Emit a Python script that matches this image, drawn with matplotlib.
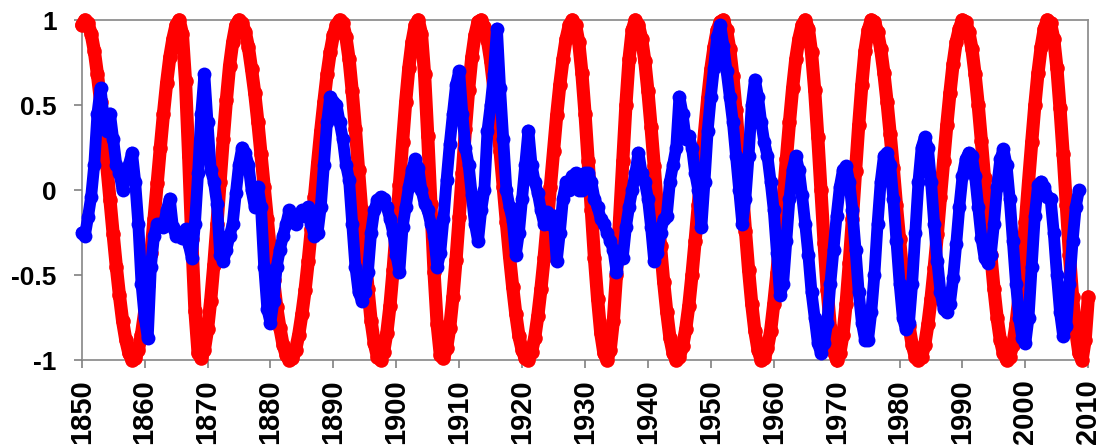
import numpy as np
import matplotlib
matplotlib.use("Agg")
import matplotlib.pyplot as plt

plt.rcParams['font.family'] = ['Liberation Sans', 'DejaVu Sans']

# half-year sampling
red_years = np.arange(1850, 2010.01, 0.5)
red_vals = [
    0.97, 1.00, 0.98, 0.92, 0.82, 0.68, 0.52, 0.34, 0.14, -0.06, -0.26, -0.45, -0.62, -0.77, -0.88, -0.96, -1.00, -0.99, -0.94, -0.85,
    -0.72, -0.56, -0.37, -0.17, 0.04, 0.25, 0.45, 0.63, 0.78, 0.89, 0.97, 1.00, 0.92, 0.64, 0.20, -0.29, -0.71, -0.96, -0.99, -0.94,
    -0.82, -0.65, -0.44, -0.20, 0.05, 0.30, 0.53, 0.73, 0.87, 0.97, 1.00, 0.98, 0.93, 0.84, 0.71, 0.57, 0.40, 0.21, 0.02, -0.17,
    -0.36, -0.53, -0.69, -0.81, -0.91, -0.97, -1.00, -0.99, -0.94, -0.85, -0.73, -0.59, -0.42, -0.23, -0.04, 0.16, 0.35, 0.52, 0.68, 0.81,
    0.91, 0.97, 1.00, 0.98, 0.90, 0.77, 0.58, 0.36, 0.12, -0.12, -0.36, -0.58, -0.77, -0.90, -0.98, -1.00, -0.95, -0.84, -0.68, -0.47,
    -0.23, 0.03, 0.28, 0.52, 0.72, 0.87, 0.97, 1.00, 0.92, 0.68, 0.32, -0.08, -0.48, -0.79, -0.97, -0.99, -0.93, -0.81, -0.63, -0.41,
    -0.16, 0.10, 0.36, 0.59, 0.78, 0.91, 0.99, 1.00, 0.96, 0.88, 0.76, 0.60, 0.43, 0.23, 0.02, -0.19, -0.39, -0.57, -0.73, -0.86,
    -0.94, -0.99, -1.00, -0.95, -0.87, -0.74, -0.58, -0.40, -0.19, 0.02, 0.23, 0.44, 0.62, 0.77, 0.89, 0.97, 1.00, 0.97, 0.87, 0.69,
    0.45, 0.17, -0.12, -0.40, -0.64, -0.84, -0.96, -1.00, -0.94, -0.77, -0.50, -0.17, 0.17, 0.50, 0.77, 0.94, 1.00, 0.97, 0.89, 0.76,
    0.58, 0.37, 0.14, -0.10, -0.33, -0.54, -0.72, -0.87, -0.96, -1.00, -0.98, -0.92, -0.82, -0.68, -0.50, -0.30, -0.09, 0.13, 0.34, 0.54,
    0.71, 0.84, 0.94, 0.99, 1.00, 0.94, 0.83, 0.67, 0.47, 0.24, 0.00, -0.24, -0.47, -0.67, -0.83, -0.94, -1.00, -0.99, -0.93, -0.83,
    -0.67, -0.49, -0.27, -0.05, 0.18, 0.40, 0.60, 0.77, 0.89, 0.97, 1.00, 0.95, 0.81, 0.59, 0.31, 0.00, -0.31, -0.59, -0.81, -0.95,
    -1.00, -0.96, -0.85, -0.67, -0.43, -0.17, 0.11, 0.38, 0.62, 0.82, 0.94, 1.00, 0.99, 0.93, 0.83, 0.69, 0.52, 0.33, 0.13, -0.09,
    -0.29, -0.49, -0.66, -0.80, -0.91, -0.98, -1.00, -0.98, -0.91, -0.79, -0.64, -0.46, -0.26, -0.04, 0.17, 0.38, 0.57, 0.74, 0.87, 0.95,
    1.00, 0.99, 0.93, 0.83, 0.68, 0.50, 0.29, 0.07, -0.16, -0.38, -0.58, -0.75, -0.88, -0.96, -1.00, -0.98, -0.91, -0.79, -0.62, -0.41,
    -0.19, 0.05, 0.28, 0.50, 0.69, 0.84, 0.95, 1.00, 0.98, 0.89, 0.72, 0.48, 0.21, -0.09, -0.38, -0.63, -0.83, -0.96, -1.00, -0.88,
    -0.63,
]

blue_years = np.arange(1850, 2008.51, 0.5)
blue_vals = [
    -0.25, -0.27, -0.16, -0.04, 0.15, 0.45, 0.60, 0.42, 0.35, 0.45, 0.30, 0.15, 0.10, 0.00, 0.10, 0.15, 0.22, 0.05, -0.20, -0.55,
    -0.75, -0.87, -0.45, -0.27, -0.20, -0.20, -0.22, -0.12, -0.05, -0.22, -0.27, -0.25, -0.28, -0.23, -0.32, -0.40, -0.20, 0.10, 0.45, 0.68,
    0.40, 0.12, 0.05, -0.08, -0.38, -0.42, -0.35, -0.27, -0.20, -0.02, 0.15, 0.25, 0.22, 0.15, 0.00, -0.10, 0.02, -0.10, -0.45, -0.70,
    -0.78, -0.65, -0.45, -0.35, -0.27, -0.20, -0.12, -0.15, -0.20, -0.15, -0.12, -0.15, -0.10, -0.20, -0.27, -0.25, -0.10, 0.15, 0.40, 0.55,
    0.52, 0.50, 0.40, 0.30, 0.15, 0.06, -0.20, -0.45, -0.60, -0.65, -0.60, -0.48, -0.25, -0.12, -0.06, -0.04, -0.05, -0.10, -0.17, -0.25,
    -0.38, -0.48, -0.22, -0.10, 0.02, 0.12, 0.18, 0.13, 0.00, -0.08, -0.12, -0.20, -0.27, -0.45, -0.37, -0.17, 0.06, 0.27, 0.45, 0.62,
    0.70, 0.45, 0.25, 0.15, -0.03, -0.20, -0.30, -0.12, 0.00, 0.35, 0.50, 0.68, 0.95, 0.60, 0.30, 0.00, -0.10, -0.18, -0.38, -0.25,
    -0.05, 0.15, 0.35, 0.15, 0.05, -0.02, -0.12, -0.20, -0.13, -0.20, -0.15, -0.42, -0.25, -0.05, 0.05, 0.00, 0.08, 0.10, 0.00, 0.00,
    0.10, 0.10, 0.05, -0.05, -0.10, -0.17, -0.20, -0.25, -0.30, -0.35, -0.48, -0.38, -0.40, -0.22, -0.10, 0.00, 0.10, 0.22, 0.10, 0.05,
    -0.05, -0.22, -0.42, -0.37, -0.25, -0.17, -0.15, 0.05, 0.15, 0.25, 0.55, 0.45, 0.30, 0.32, 0.25, 0.10, 0.00, -0.22, 0.05, 0.35,
    0.55, 0.72, 0.90, 0.97, 0.85, 0.70, 0.55, 0.40, 0.20, 0.00, -0.20, -0.05, 0.20, 0.50, 0.65, 0.55, 0.40, 0.28, 0.20, 0.05,
    -0.12, -0.37, -0.62, -0.55, -0.30, -0.05, 0.12, 0.20, 0.12, -0.03, -0.20, -0.38, -0.60, -0.75, -0.90, -0.96, -0.90, -0.78, -0.55, -0.35,
    -0.15, 0.02, 0.12, 0.14, 0.05, -0.12, -0.35, -0.60, -0.78, -0.88, -0.88, -0.72, -0.50, -0.20, 0.05, 0.20, 0.22, 0.15, -0.05, -0.30,
    -0.55, -0.75, -0.82, -0.78, -0.55, -0.25, 0.05, 0.25, 0.31, 0.25, 0.05, -0.20, -0.42, -0.60, -0.70, -0.72, -0.67, -0.52, -0.32, -0.10,
    0.08, 0.18, 0.22, 0.20, 0.08, -0.10, -0.28, -0.40, -0.43, -0.38, -0.20, 0.02, 0.18, 0.24, 0.15, -0.05, -0.30, -0.55, -0.75, -0.87,
    -0.90, -0.75, -0.45, -0.15, 0.03, 0.05, 0.02, -0.04, -0.05, -0.25, -0.50, -0.72, -0.86, -0.80, -0.55, -0.30, -0.10, 0.00,
]

x_ticks = list(range(1850, 2011, 10))
y_ticks = [-1, -0.5, 0, 0.5, 1]
y_labels = ['-1', '-0.5', '0', '0.5', '1']

fig = plt.figure(figsize=(11.04, 4.48), dpi=100)
ax = fig.add_axes([0.0740, 0.1964, 0.9118, 0.7589])

ax.plot(red_years, red_vals, color='#ff0000', marker='o', ms=10.5, mew=0, lw=9.5,
        solid_joinstyle='round', solid_capstyle='round', clip_on=False, zorder=3)
ax.plot(blue_years, blue_vals, color='#0000ff', marker='o', ms=10, mew=0, lw=8.5,
        solid_joinstyle='round', solid_capstyle='round', clip_on=False, zorder=4)

ax.set_xlim(1850, 2010)
ax.set_ylim(-1, 1)
ax.set_xticks(x_ticks)
ax.set_xticklabels([str(t) for t in x_ticks], rotation=90, fontsize=21, fontweight='bold')
ax.set_yticks(y_ticks)
ax.set_yticklabels(y_labels, fontsize=19, fontweight='bold')
ax.tick_params(axis='x', length=6, width=1.2, color='#808080', pad=8)
ax.tick_params(axis='y', length=6, width=1.2, color='#808080', pad=12)

for s in ax.spines.values():
    s.set_color('#909090')
    s.set_linewidth(1.3)
    s.set_zorder(1)

fig.savefig('out.png', dpi=100)
